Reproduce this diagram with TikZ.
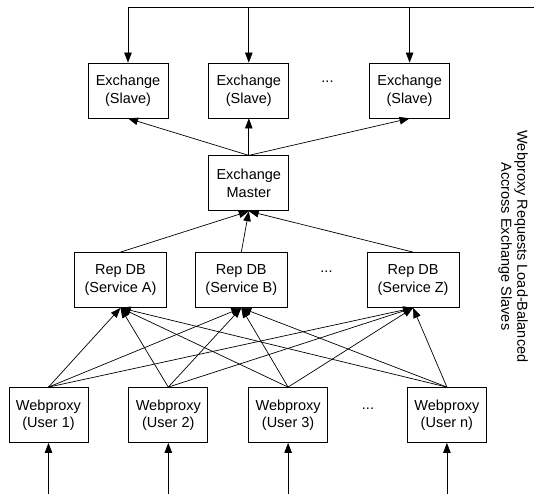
\documentclass[tikz,border=0pt]{standalone}
\usepackage{fontspec}
\setmainfont{Liberation Sans}
\usetikzlibrary{arrows.meta,positioning}

\begin{document}
\begin{tikzpicture}[
  x=1pt, y=-1pt,
  every node/.style={font=\fontsize{14.5}{17.5}\selectfont},
  box/.style={draw, line width=0.8pt, minimum width=80pt, minimum height=55pt, inner sep=1pt, align=center},
  repbox/.style={box, minimum width=92pt},
  arr/.style={-{Triangle[length=10pt,width=7.5pt]}, line width=0.7pt},
  node distance=40pt
]
\useasboundingbox (0,0) rectangle (534,494);

% exchange slaves
\node[box] (s1) at (128,90.5) {Exchange\\(Slave)};
\node[box, right=of s1] (s2) {Exchange\\(Slave)};
\node[box, right=80pt of s2] (s3) {Exchange\\(Slave)};
\node (sdots) at (327.5,82) {...};

% master
\node[box, below=37pt of s2] (master) {Exchange\\Master};

% replicated dbs
\node[repbox] (rA) at (120.5,280) {Rep DB\\(Service A)};
\node[repbox, right=28pt of rA] (rB) {Rep DB\\(Service B)};
\node[repbox, right=79pt of rB] (rZ) {Rep DB\\(Service Z)};
\node (rdots) at (326.5,272) {...};

% webproxies
\node[box, minimum width=79pt] (w1) at (48.5,415) {Webproxy\\(User 1)};
\node[box, minimum width=79pt, right=of w1] (w2) {Webproxy\\(User 2)};
\node[box, minimum width=79pt, right=of w2] (w3) {Webproxy\\(User 3)};
\node[box, minimum width=79pt, right=79pt of w3] (wn) {Webproxy\\(User n)};
\node (wdots) at (368,409) {...};

\node[rotate=-90, align=center, font=\fontsize{14.5}{16}\selectfont] (note) at (513,246.5)
  {Webproxy Requests Load-Balanced\\Accross Exchange Slaves};

\coordinate (lb) at (534,7);
\coordinate (req) at (0,494);

% load-balanced requests into the slaves
\draw[line width=0.7pt] (s1.north |- lb) -- (lb);
\foreach \s in {s1,s2,s3}
  \draw[arr] (\s.north |- lb) -- (\s);

\foreach \s in {s1,s2,s3}
  \draw[arr] (master.north) -- (\s.south);

\foreach \r in {rA,rB,rZ}
  \draw[arr] (\r.north) -- (master.south);

\foreach \w in {w1,w2,w3,wn}
  \foreach \r in {rA,rB,rZ}
    \draw[arr] (\w.north) -- (\r.south);

\foreach \w in {w1,w2,w3,wn}
  \draw[arr] (\w.south |- req) -- (\w);
\end{tikzpicture}
\end{document}
